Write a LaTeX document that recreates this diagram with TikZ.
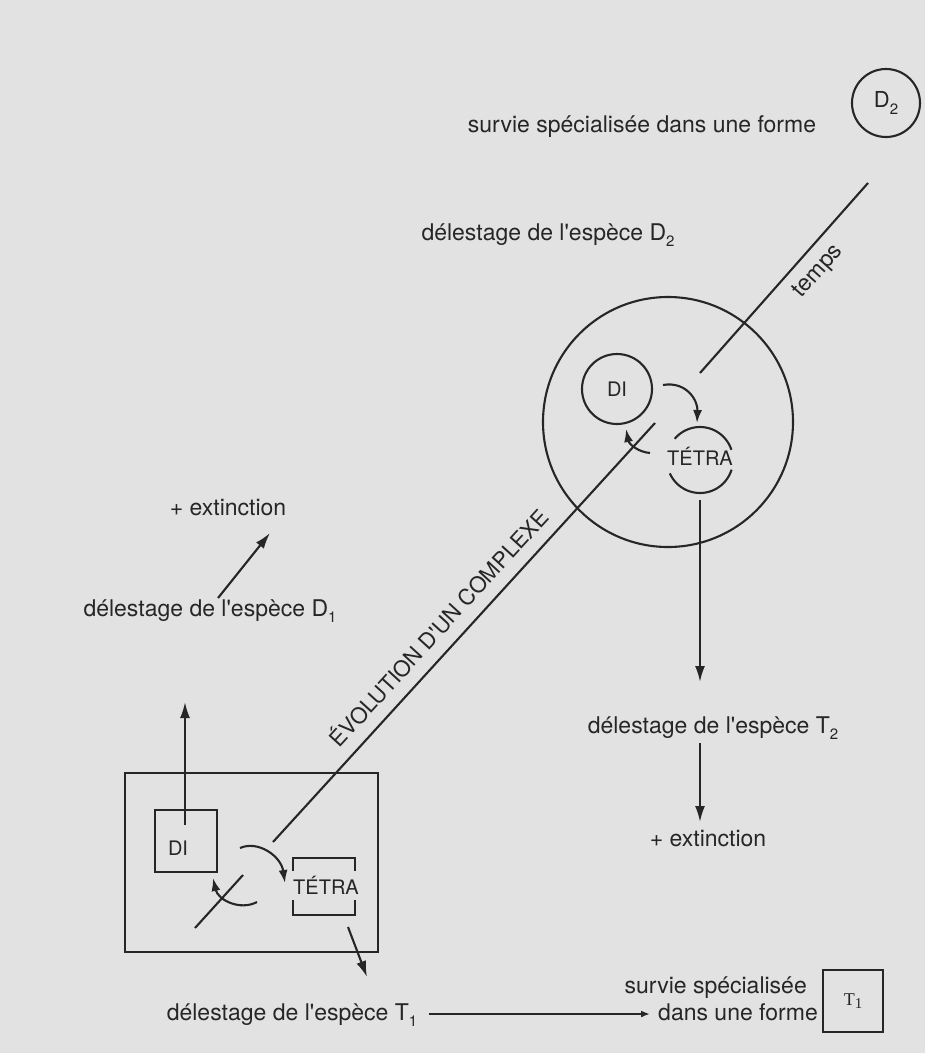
\documentclass[tikz,border=0pt]{standalone}
\usepackage{fontspec}
\setmainfont{TeX Gyre Heros}
\newfontfamily\serifT{Liberation Serif}
\usetikzlibrary{arrows.meta}
\definecolor{paper}{RGB}{226,226,226}
\definecolor{ink}{RGB}{38,38,38}
\newcommand\mysub[1]{\raisebox{-0.28em}{\fontsize{15}{15}\selectfont #1}}
\begin{document}
\begin{tikzpicture}[x=1pt,y=-1pt,
  lbl/.style={font=\fontsize{23}{27}\selectfont, text=ink, inner sep=0pt, text height=17pt, text depth=5pt},
  small/.style={font=\fontsize{20}{24}\selectfont, text=ink, inner sep=0pt, text height=14.4pt, text depth=0pt},
  ln/.style={draw=ink, line width=2.1pt},
  arr/.style={ln, -{Latex[length=16pt,width=10pt]}},
  carr/.style={ln, -{Latex[length=13pt,width=9pt]}},
  sarr/.style={ln, -{Latex[length=9pt,width=7pt]}},
  ring/.style={circle, ln, inner sep=0pt},
]
\fill[paper] (0,0) rectangle (925,1053);
\useasboundingbox (0,0) rectangle (925,1053);

% ---------- top right ----------
\node[lbl] (surv2) at (642,126) {survie spécialisée dans une forme};
\node[ring, minimum size=68pt, font=\fontsize{22}{26}\selectfont, text=ink] (d2) at (886,103) {D\mysub{2}};
\node[lbl] (del2) at (548,234) {délestage de l\textquotesingle espèce D\mysub{2}};

% big circle with DI and TETRA
\node[ring, minimum size=250pt] (big) at (668,422) {};
\node[ring, minimum size=70pt, small] (di) at (617,389) {DI};
\node[small] (tetra) at (700,458) {TÉTRA};
\draw[ln] plot[domain=18:140, samples=30, smooth] ({700+33*cos(\x)},{460-33*sin(\x)});
\draw[ln] plot[domain=204:343, samples=30, smooth] ({700+33*cos(\x)},{460-33*sin(\x)});

\coordinate (c1s) at (663,385); \coordinate (c1e) at (697,423);
\draw[carr] (c1s) .. controls (686,381) and (698,400) .. (c1e);
\coordinate (c2s) at (650,453); \coordinate (c2e) at (626,429);
\draw[carr] (c2s) .. controls (638,452) and (629,444) .. (c2e);

% temps axis
\coordinate (tA) at (700,373); \coordinate (tB) at (868,183);
\draw[ln] (tA) -- (tB);
\node[lbl, rotate=48.5] (temps) at (818,271) {temps};

% evolution axis
\coordinate (eA) at (273,842); \coordinate (eB) at (655,423);
\draw[ln] (eA) -- (eB);
\node[font=\fontsize{22}{26}\selectfont, text=ink, inner sep=0pt, text height=16pt, text depth=0pt, rotate=47.6] (evo) at (439,628) {ÉVOLUTION D\textquotesingle UN COMPLEXE};

% right column: T2
\coordinate (t2s) at (700,500); \coordinate (t2e) at (700,682);
\draw[arr] (t2s) -- (t2e);
\node[lbl] (del2T) at (713,727) {délestage de l\textquotesingle espèce T\mysub{2}};
\coordinate (x2s) at (700,743); \coordinate (x2e) at (700,822);
\draw[arr] (x2s) -- (x2e);
\node[lbl] (ext2) at (708,840) {+ extinction};

% ---------- left ----------
\node[lbl] (ext1) at (228,509) {+ extinction};
\node[lbl] (del1) at (210,610) {délestage de l\textquotesingle espèce D\mysub{1}};
\coordinate (x1s) at (218,598); \coordinate (x1e) at (270,533);
\draw[arr] (x1s) -- (x1e);

\node[ln, draw, minimum width=253pt, minimum height=179pt, inner sep=0pt] (rect) at (251.5,862.5) {};
\node[ln, draw, minimum size=62pt, inner sep=0pt] (disq) at (186,841) {};
\node[small] (ditxt) at (178,848) {DI};
\coordinate (v1s) at (185,825); \coordinate (v1e) at (185,702);
\draw[arr] (v1s) -- (v1e);

\node[small] (tetra2) at (326,887) {TÉTRA};
\draw[ln] (293,871) -- (293,858) -- (355,858) -- (355,871);
\draw[ln] (293,900) -- (293,915) -- (355,915) -- (355,900);

\coordinate (c3s) at (240,848); \coordinate (c3e) at (285,883);
\draw[carr] (c3s) .. controls (258,840) and (281,856) .. (c3e);
\coordinate (c4s) at (257,902); \coordinate (c4e) at (213,878);
\draw[carr] (c4s) .. controls (240,911) and (218,900) .. (c4e);
\coordinate (k1) at (195,928); \coordinate (k2) at (243,875);
\draw[ln] (k1) -- (k2);
\coordinate (o1s) at (348,927); \coordinate (o1e) at (367,977);
\draw[arr] (o1s) -- (o1e);

% ---------- bottom ----------
\node[lbl] (del1T) at (292,1014) {délestage de l\textquotesingle espèce T\mysub{1}};
\node[lbl, anchor=east] (surv1a) at (807,987) {survie spécialisée};
\node[lbl, anchor=east] (surv1b) at (818,1014) {dans une forme};
\draw[sarr] ([xshift=12pt]del1T.east) -- ([xshift=-8pt]surv1b.west);
\node[ln, draw, minimum width=60pt, minimum height=62pt, inner sep=0pt, text=ink, font=\serifT\fontsize{18}{20}\selectfont] (t1) at (853,1001) {T\raisebox{-3pt}{\fontsize{15}{15}\selectfont 1}};
\end{tikzpicture}
\end{document}
